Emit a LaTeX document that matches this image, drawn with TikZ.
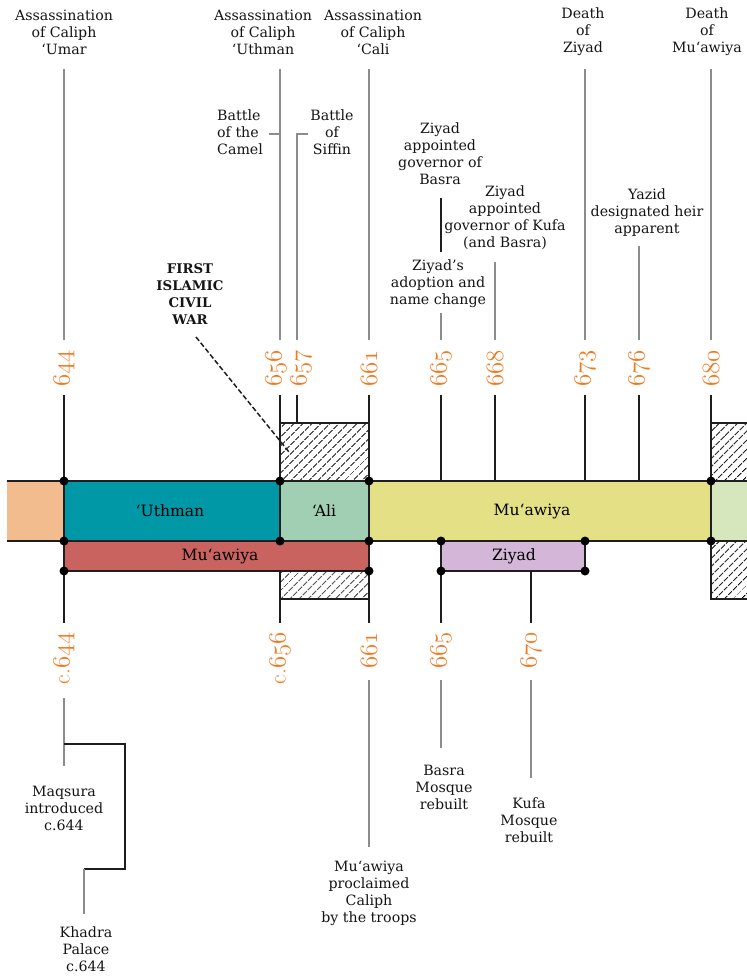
\documentclass[tikz,border=0pt]{standalone}
\usepackage{fontspec}
\setmainfont{DejaVu Serif}
\usetikzlibrary{patterns.meta}
\newcommand\osn[1]{{\usefont{OML}{cmm}{m}{it}#1}}
\newcommand\lmc[1]{{\usefont{TU}{lmr}{m}{n}#1}}
\definecolor{yrorange}{HTML}{F07A22}
\definecolor{cOrange}{HTML}{F2BC8F}
\definecolor{cTeal}{HTML}{0097A7}
\definecolor{cAli}{HTML}{A0CFB3}
\definecolor{cYellow}{HTML}{E4E085}
\definecolor{cGreen}{HTML}{D6E7BD}
\definecolor{cRed}{HTML}{C9635F}
\definecolor{cPurple}{HTML}{D4B6D9}
\definecolor{lineGray}{HTML}{8C8C8C}
\definecolor{lineBlack}{HTML}{1E1E1E}
\begin{document}
\begin{tikzpicture}[x=1pt,y=-1pt,
  lbl/.style={font=\fontsize{14.2}{17}\selectfont, align=center, inner sep=0pt, text=black!92},
  barlbl/.style={font=\fontsize{15.6}{18}\selectfont, inner sep=0pt},
  yr/.style={font=\fontsize{23.5}{23.5}\selectfont, text=yrorange, inner sep=0pt, rotate=90},
  gline/.style={draw=lineGray, line width=1.1pt},
  bline/.style={draw=lineBlack, line width=1.6pt},
  hatch/.style={pattern={Lines[angle=45,distance=6.4pt,line width=1pt]}},
  dot/.style={circle, fill=black, inner sep=0pt, minimum size=9pt},
]
\useasboundingbox (0,0) rectangle (747,978);

% ---------- hatched areas ----------
\fill[hatch] (280,423) rectangle (369,481);
\fill[hatch] (280,571) rectangle (369,599);
\fill[hatch] (711,423) rectangle (747,481);
\fill[hatch] (711,541) rectangle (747,599);
\draw[bline] (280,481) -- (280,423) -- (369,423) -- (369,481);
\draw[bline] (280,571) -- (280,599) -- (369,599) -- (369,571);
\draw[bline] (747,423) -- (711,423) -- (711,481);
\draw[bline] (711,541) -- (711,599) -- (747,599);

% ---------- bars ----------
\fill[cOrange] (7,481) rectangle (64,541);
\draw[bline] (7,481) -- (64,481) (7,541) -- (64,541);
\draw[bline, fill=cTeal] (64,481) rectangle (280,541);
\draw[bline, fill=cAli] (280,481) rectangle (369,541);
\draw[bline, fill=cYellow] (369,481) rectangle (711,541);
\fill[cGreen] (711,481) rectangle (747,541);
\draw[bline] (747,481) -- (711,481) -- (711,541) -- (747,541);
\draw[bline, fill=cRed] (64,541) rectangle (369,571);
\draw[bline, fill=cPurple] (441,541) rectangle (585,571);

\node[barlbl] (bUthman) at (170,511) {`Uthman};
\node[barlbl] (bAli) at (324,511) {`Ali};
\node[barlbl] (bMuaw) at (532,511) {Mu`awiya};
\node[barlbl] (bMuawR) at (220,556) {Mu`awiya};
\node[barlbl] (bZiyad) at (514,556) {Ziyad};

% ---------- top labels ----------
\node[lbl] (tUmar) at (64,32) {Assassination\\of Caliph\\`Umar};
\node[lbl] (tUthman) at (263,32) {Assassination\\of Caliph\\`Uthman};
\node[lbl] (tCali) at (373,32) {Assassination\\of Caliph\\`Cali};
\node[lbl] (tDZiyad) at (583,32) {Death\\of\\Ziyad};
\node[lbl] (tDMuaw) at (707,32) {Death\\of\\Mu`awiya};
\node[lbl, align=left, anchor=west] (tCamel) at (217,132) {Battle\\of the\\Camel};
\node[lbl] (tSiffin) at (332,132) {Battle\\of\\Siffin};
\node[lbl] (tZBasra) at (440,154) {Ziyad\\appointed\\governor of\\Basra};
\node[lbl] (tZKufa) at (505,218) {Ziyad\\appointed\\governor of Kufa\\(and Basra)};
\node[lbl] (tYazid) at (647,213) {Yazid\\designated heir\\apparent};
\node[lbl] (tAdopt) at (438,284) {Ziyad's\\adoption and\\name change};
\node[lbl, font=\fontsize{13.3}{17}\selectfont\bfseries] (tWar) at (190,294) {FIRST\\ISLAMIC\\CIVIL\\WAR};

% ---------- top years ----------
\foreach \x/\y in {64/644, 276/656, 301/657, 369/661, 441/665, 495/668, 585/673, 639/676, 711/680}
  \node[yr, anchor=west] (y\y) at (\x,387) {\osn{\y}};

% ---------- top connectors ----------
\foreach \x in {64,280,369,585,711}
  \draw[gline] (\x,69) -- (\x,340);
\draw[gline] (297,340) -- (297,134) -- (308,134);
\draw[gline] (269,134) -- (280,134);
\draw[bline] (441,198) -- (441,252);
\draw[gline] (441,313) -- (441,340);
\draw[gline] (495,262) -- (495,340);
\draw[gline] (639,246) -- (639,340);
\foreach \x/\e in {64/481, 280/423, 297/423, 369/423, 441/481, 495/481, 585/481, 639/481, 711/423}
  \draw[bline] (\x,395) -- (\x,\e);

\coordinate (warS) at (196,337);
\coordinate (warE) at (289,452);
\draw[lineBlack, line width=1.5pt, dash pattern=on 5pt off 2.5pt] (warS) -- (warE);

% ---------- bottom years ----------
\node[yr, anchor=east] (b644) at (64,632) {\lmc{c.}\osn{644}};
\node[yr, anchor=east] (b656) at (280,632) {\lmc{c.}\osn{656}};
\node[yr, anchor=east] (b661) at (369,632) {\osn{661}};
\node[yr, anchor=east] (b665) at (441,632) {\osn{665}};
\node[yr, anchor=east] (b670) at (531,632) {\osn{670}};

% ---------- bottom connectors ----------
\draw[bline] (64,571) -- (64,623);
\draw[bline] (280,599) -- (280,623);
\draw[bline] (369,571) -- (369,623);
\draw[bline] (441,571) -- (441,623);
\draw[bline] (531,571) -- (531,623);
\draw[gline] (64,698) -- (64,766);
\draw[gline] (369,680) -- (369,847);
\draw[gline] (441,680) -- (441,748);
\draw[gline] (531,680) -- (531,778);
\draw[lineBlack, line width=1.4pt] (64,744) -- (125,744) -- (125,869) -- (84,869);
\draw[gline] (84,869) -- (84,914);

% ---------- bottom labels ----------
\node[lbl] (tMaqsura) at (64,808) {Maqsura\\introduced\\c.644};
\node[lbl] (tKhadra) at (86,949) {Khadra\\Palace\\c.644};
\node[lbl] (tProcl) at (369,893) {Mu`awiya\\proclaimed\\Caliph\\by the troops};
\node[lbl] (tBasraM) at (444,787) {Basra\\Mosque\\rebuilt};
\node[lbl] (tKufaM) at (529,820) {Kufa\\Mosque\\rebuilt};

% ---------- dots ----------
\foreach \p in {(64,481),(280,481),(369,481),(711,481),
                (64,541),(280,541),(369,541),(441,541),(585,541),(711,541),
                (64,571),(369,571),(441,571),(585,571)}
  \node[dot] at \p {};
\end{tikzpicture}
\end{document}
